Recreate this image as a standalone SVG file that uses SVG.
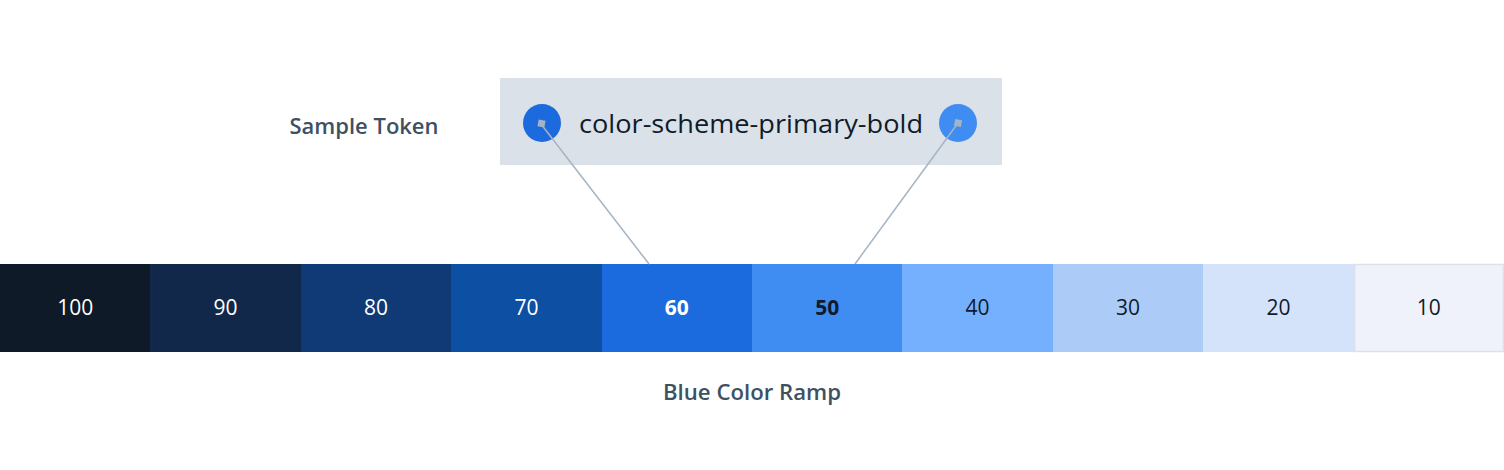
<svg xmlns="http://www.w3.org/2000/svg" width="1504" height="470" viewBox="0 0 1504 470">
<style>
.lbl{font-family:"Open Sans","Noto Sans",sans-serif;font-weight:600;font-size:21.5px;fill:#3d5163;text-anchor:middle}
.num{font-family:"Open Sans","Noto Sans",sans-serif;font-size:21px;text-anchor:middle}
.w{fill:#ffffff}.d{fill:#0f1b2a}.b{font-weight:700}
.tok{font-family:"Open Sans","Noto Sans",sans-serif;font-size:26px;fill:#0f1b2a}
.conn{stroke:#a4b4c2;stroke-width:1.5;fill:none}
.dot{fill:#a4b4c2}
.cell{shape-rendering:crispEdges}
</style>
<rect width="1504" height="470" fill="#ffffff"/>
<g id="sample-token-label"><text class="lbl" x="364" y="134" textLength="149" lengthAdjust="spacingAndGlyphs">Sample Token</text></g>
<g id="token">
<rect x="500" y="78" width="502" height="87" fill="#dbe1e8"/>
<circle cx="542" cy="123" r="19" fill="#1b6ade"/>
<circle cx="958" cy="123" r="19" fill="#3f8cf2"/>
<text class="tok" x="579" y="133" textLength="344" lengthAdjust="spacingAndGlyphs">color-scheme-primary-bold</text>
</g>
<g id="ramp">
<g id="c100"><rect class="cell" x="0" y="264" width="151" height="88" fill="#0f1a28"/><text class="num w" x="75.2" y="315">100</text></g>
<g id="c90"><rect class="cell" x="150.4" y="264" width="151" height="88" fill="#12284b"/><text class="num w" x="225.6" y="315">90</text></g>
<g id="c80"><rect class="cell" x="300.8" y="264" width="151" height="88" fill="#103a76"/><text class="num w" x="376" y="315">80</text></g>
<g id="c70"><rect class="cell" x="451.2" y="264" width="151" height="88" fill="#0d4fa3"/><text class="num w" x="526.4" y="315">70</text></g>
<g id="c60"><rect class="cell" x="601.6" y="264" width="151" height="88" fill="#1b6ade"/><text class="num w b" x="676.8" y="315">60</text></g>
<g id="c50"><rect class="cell" x="752" y="264" width="151" height="88" fill="#3f8cf2"/><text class="num d b" x="827.2" y="315">50</text></g>
<g id="c40"><rect class="cell" x="902.4" y="264" width="151" height="88" fill="#75b0ff"/><text class="num d" x="977.6" y="315">40</text></g>
<g id="c30"><rect class="cell" x="1052.8" y="264" width="151" height="88" fill="#adcbf7"/><text class="num d" x="1128" y="315">30</text></g>
<g id="c20"><rect class="cell" x="1203.2" y="264" width="151" height="88" fill="#d4e3fa"/><text class="num d" x="1278.4" y="315">20</text></g>
<g id="c10"><rect x="1354.6" y="264.5" width="148.9" height="87" fill="#eff2fa" stroke="#dde2e9" stroke-width="1.5"/><text class="num d" x="1428.8" y="315">10</text></g>
</g>
<g id="connectors">
<line class="conn" x1="541" y1="124" x2="649" y2="264"/>
<line class="conn" x1="958" y1="123" x2="855" y2="264"/>
<rect class="dot" x="538" y="120" width="7" height="7" transform="rotate(10 541.5 123.5)"/>
<rect class="dot" x="954.5" y="119.5" width="7" height="7" transform="rotate(10 958 123)"/>
</g>
<g id="ramp-label"><text class="lbl" x="752" y="400" textLength="178" lengthAdjust="spacingAndGlyphs">Blue Color Ramp</text></g>
</svg>
